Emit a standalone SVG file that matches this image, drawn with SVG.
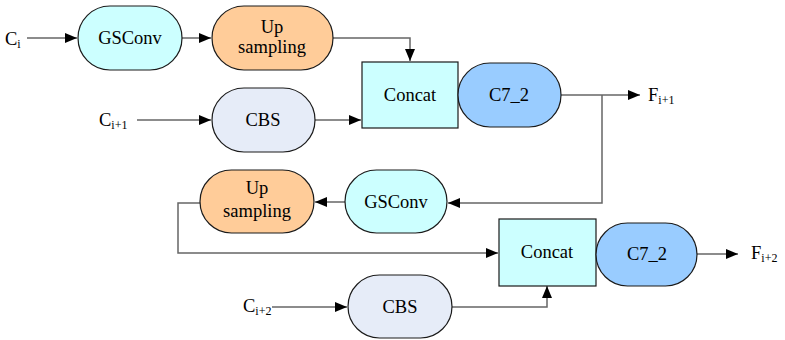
<svg xmlns="http://www.w3.org/2000/svg" width="785" height="340" viewBox="0 0 785 340">
<style>
.t{font-family:'Liberation Serif','Times New Roman','DejaVu Serif',serif;font-size:18.5px;fill:#000}
.c{text-anchor:middle}
.sub{font-size:12px}
.n{stroke:#1a1a1a;stroke-width:1.2}
.l{fill:none;stroke:#666;stroke-width:1.5}
.gs{fill:#CCFFFF}
.up{fill:#FFCC99}
.cbs{fill:#E6ECF8}
.cc{fill:#CCFFFF}
.c7{fill:#99CCFF}
</style>
<defs>
<marker id="a" markerUnits="userSpaceOnUse" markerWidth="13" markerHeight="11" refX="12" refY="5" orient="auto">
<path d="M0,0 L12,5 L0,10 z" fill="#000"/>
</marker>
</defs>
<g id="connectors">
<path class="l" d="M27,38 H77" marker-end="url(#a)"/>
<path class="l" d="M182,38 H211" marker-end="url(#a)"/>
<path class="l" d="M333,38 H410 V61" marker-end="url(#a)"/>
<path class="l" d="M137,120 H211" marker-end="url(#a)"/>
<path class="l" d="M315,120 H361" marker-end="url(#a)"/>
<path class="l" d="M561,95 H640" marker-end="url(#a)"/>
<path class="l" d="M602,95 V203 H448" marker-end="url(#a)"/>
<path class="l" d="M345,202 H315" marker-end="url(#a)"/>
<path class="l" d="M200,203 H178 V253 H498" marker-end="url(#a)"/>
<path class="l" d="M272,307 H347" marker-end="url(#a)"/>
<path class="l" d="M452,307 H547 V286" marker-end="url(#a)"/>
<path class="l" d="M697,254 H738" marker-end="url(#a)"/>
</g>
<g class="t" font-family="Liberation Serif, serif">
<g id="gsconv1"><rect class="n gs" x="78" y="6" width="104" height="64" rx="32"/><text class="c" x="130" y="44">GSConv</text></g>
<g id="upsampling1"><rect class="n up" x="212" y="6" width="121" height="64" rx="32"/><text class="c" x="272" y="33">Up</text><text class="c" x="272" y="53">sampling</text></g>
<g id="cbs1"><rect class="n cbs" x="212" y="88" width="103" height="64" rx="32"/><text class="c" x="263" y="126">CBS</text></g>
<g id="concat1"><rect class="n cc" x="362" y="62" width="96" height="66"/><text class="c" x="410" y="101">Concat</text></g>
<g id="c72a"><rect class="n c7" x="458" y="63" width="103" height="64" rx="32"/><text class="c" x="509" y="101">C7_2</text></g>
<g id="gsconv2"><rect class="n gs" x="345" y="170" width="102" height="63" rx="31.5"/><text class="c" x="396" y="208">GSConv</text></g>
<g id="upsampling2"><rect class="n up" x="200" y="170" width="114" height="63" rx="31.5"/><text class="c" x="257" y="194">Up</text><text class="c" x="257" y="217">sampling</text></g>
<g id="concat2"><rect class="n cc" x="499" y="219" width="97" height="67"/><text class="c" x="547" y="258">Concat</text></g>
<g id="c72b"><rect class="n c7" x="596" y="223" width="101" height="63" rx="31.5"/><text class="c" x="647" y="260">C7_2</text></g>
<g id="cbs2"><rect class="n cbs" x="348" y="275" width="104" height="63" rx="31.5"/><text class="c" x="400" y="313">CBS</text></g>
<g id="labels">
<text x="5" y="45">C<tspan class="sub" dy="3">i</tspan></text>
<text x="99" y="126">C<tspan class="sub" dy="3">i+1</tspan></text>
<text x="648" y="101">F<tspan class="sub" dy="3">i+1</tspan></text>
<text x="751" y="259">F<tspan class="sub" dy="3">i+2</tspan></text>
<text x="243" y="312">C<tspan class="sub" dy="3">i+2</tspan></text>
</g>
</g>
</svg>
